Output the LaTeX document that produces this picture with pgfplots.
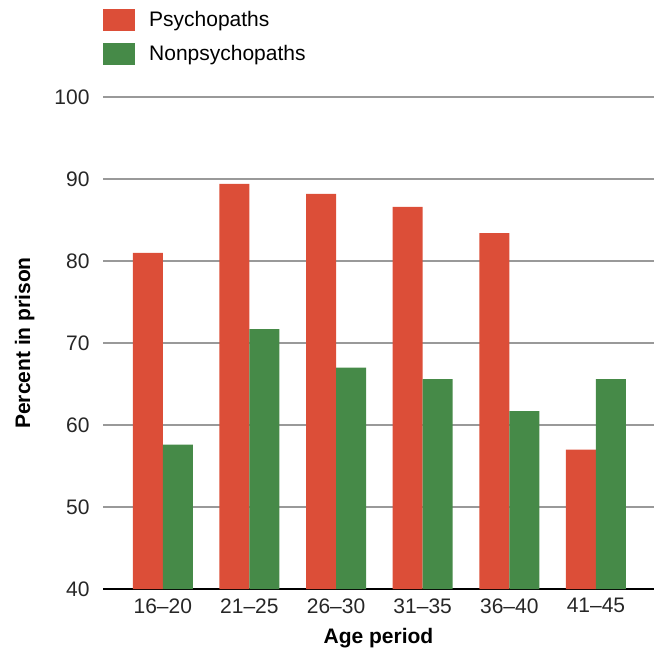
\documentclass[border=0pt]{standalone}
\usepackage{pgfplots}
\pgfplotsset{compat=1.18}
\usepackage{fontspec}
\setmainfont{Liberation Sans}
\definecolor{cred}{HTML}{DC4E38}
\definecolor{cgreen}{HTML}{468A48}
\definecolor{cgrid}{HTML}{999999}
\begin{document}
\begin{tikzpicture}
\useasboundingbox (0bp,0bp) rectangle (664bp,650bp);
\begin{axis}[
  at={(103bp,61bp)}, anchor=south west,
  scale only axis, width=551bp, height=492bp,
  ymin=40, ymax=100, ytick={40,50,...,100},
  xmin=-0.69, xmax=5.67,
  xtick=data,
  xticklabels={16--20,21--25,26--30,31--35,36--40,41--45},
  ybar=0pt, bar width=30bp,
  axis x line*=bottom, axis y line*=left,
  y axis line style={draw=none},
  x axis line style={black, line width=2bp, -},
  major tick length=0pt,
  ymajorgrids, grid style={cgrid, line width=1.6bp},
  /pgf/number format/assume math mode=true,
  tick label style={font=\fontsize{21bp}{25bp}\selectfont, text=black!85},
  yticklabel style={xshift=-10bp},
  xticklabel style={yshift=-6bp},
  label style={font=\bfseries\fontsize{21bp}{25bp}\selectfont},
  xlabel={Age period}, ylabel={Percent in prison},
  xlabel style={yshift=-8bp},
  ylabel style={yshift=13bp},
  legend style={draw=none, at={(0,1)}, anchor=south west, xshift=-3bp, yshift=30bp,
    font=\fontsize{21bp}{25bp}\selectfont, legend cell align=left,
    row sep=12bp, /tikz/every odd column/.append style={column sep=12bp}},
  legend image code/.code={\fill[#1] (0bp,-11bp) rectangle (32bp,11bp);},
]
\addplot[fill=cred, draw=none] coordinates {(0,81.0) (1,89.4) (2,88.2) (3,86.6) (4,83.4) (5,57.0)};
\addplot[fill=cgreen, draw=none] coordinates {(0,57.6) (1,71.7) (2,67.0) (3,65.6) (4,61.7) (5,65.6)};
\legend{Psychopaths, Nonpsychopaths}
\end{axis}
\end{tikzpicture}
\end{document}
